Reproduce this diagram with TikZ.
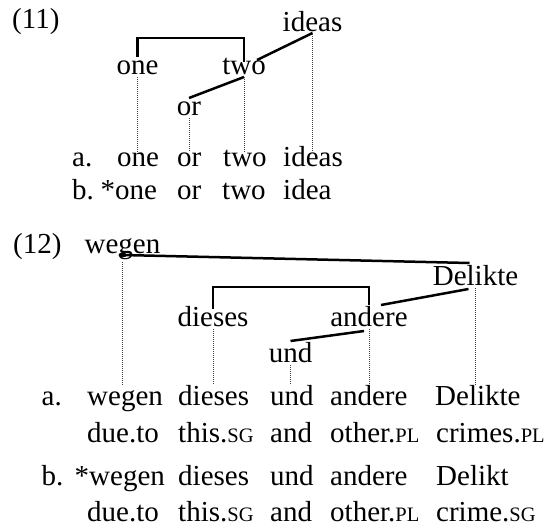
\documentclass[tikz,border=0pt]{standalone}
\usepackage{fontspec}
\setmainfont{Liberation Serif}
\newcommand{\gl}[1]{{\fontsize{20.5}{20.5}\selectfont #1}}

\begin{document}
\begin{tikzpicture}[
              x=1pt, y=-1pt,
              every node/.style={inner sep=0pt, font=\fontsize{29}{34}\selectfont},
              word/.style={anchor=base},
              row/.style={anchor=base west},
              link/.style={line width=2.5pt},
              proj/.style={line width=0.9pt, black!75, dash pattern=on 1pt off 1pt, shorten <=3pt}
            ]
            \useasboundingbox (0,0) rectangle (548,528);

            % (11): tree
            \node[row] (ex11) at (12,28) {(11)};
            \node[word] (ideas) at (312.5,31) {ideas};
            \node[word] (one) at (137.5,74) {one};
            \node[word] (two) at (244,74) {two};
            \node[word] (or) at (189,115) {or};

            % (11): examples
            \node[row] (a11) at (72,166) {a.};
            \node[row] (oneA) at (117,166) {one};
            \node[row] (orA) at (177,166) {or};
            \node[row] (twoA) at (223,166) {two};
            \node[row] (ideasA) at (283,166) {ideas};
            \node[row] (b11) at (72,199) {b.};
            \node[row] (oneB) at (115,199) {\llap{*}one};
            \node[row] (orB) at (177,199) {or};
            \node[row] (twoB) at (222,199) {two};
            \node[row] (ideaB) at (283,199) {idea};

            % (11): edges
            \draw[link] ([yshift=17pt]one.base) |- ([yshift=36pt]two.base) -- ([yshift=12pt]two.base);
            \draw[link] ([xshift=13pt,yshift=14pt]two.base) -- ([yshift=-2pt]ideas.base);
            \draw[link] ([yshift=-3pt]two.base) -- ([yshift=17pt]or.base);

            % (11): projection lines
            \coordinate (foot11) at (0,152);
            \foreach \w in {one,two,or,ideas}
              \draw[proj] (\w.south) -- (\w.south |- foot11);

            % (12): tree
            \node[row] (ex12) at (13,253) {(12)};
            \node[word] (wegen) at (122.5,253) {wegen};
            \node[word] (Delikte) at (475.5,285) {Delikte};
            \node[word] (dieses) at (213,326) {dieses};
            \node[word] (andere) at (369,326) {andere};
            \node[word] (und) at (290.5,362) {und};

            % (12): examples with glosses
            \node[row] (a12) at (41.5,405) {a.};
            \node[row] (wegenA) at (87,405) {wegen};
            \node[row] (diesesA) at (178,405) {dieses};
            \node[row] (undA) at (270,405) {und};
            \node[row] (andereA) at (330,405) {andere};
            \node[row] (DelikteA) at (435,405) {Delikte};
            \node[row] (duetoA) at (87,442) {due.to};
            \node[row] (thisA) at (178,442) {this.\gl{SG}};
            \node[row] (andA) at (270,442) {and};
            \node[row] (otherA) at (330,442) {other.\gl{PL}};
            \node[row] (crimesA) at (436,442) {crimes.\gl{PL}};

            \node[row] (b12) at (41.5,485) {b.};
            \node[row] (wegenB) at (89,485) {\llap{*}wegen};
            \node[row] (diesesB) at (178,485) {dieses};
            \node[row] (undB) at (270,485) {und};
            \node[row] (andereB) at (330,485) {andere};
            \node[row] (DeliktB) at (436,485) {Delikt};
            \node[row] (duetoB) at (87,521) {due.to};
            \node[row] (thisB) at (178,521) {this.\gl{SG}};
            \node[row] (andB) at (270,521) {and};
            \node[row] (otherB) at (330,521) {other.\gl{PL}};
            \node[row] (crimeB) at (436,521) {crime.\gl{SG}};

            % (12): edges
            \draw[link] ([yshift=-2pt]wegen.base) -- ([xshift=-6pt,yshift=22pt]Delikte.base);
            \fill ([yshift=-2pt]wegen.base) ellipse (4pt and 2.5pt);
            \draw[link] ([yshift=17pt]dieses.base) |- ([yshift=39pt]andere.base) -- ([yshift=21pt]andere.base);
            \draw[link] ([xshift=12pt,yshift=21pt]andere.base) -- ([xshift=-7pt,yshift=-4pt]Delikte.base);
            \draw[link] ([xshift=-5pt,yshift=-5pt]andere.base) -- ([yshift=21pt]und.base);

            % (12): projection lines
            \coordinate (foot12) at (0,385);
            \foreach \w in {wegen,dieses,und,andere,Delikte}
              \draw[proj] (\w.south) -- (\w.south |- foot12);

            \end{tikzpicture}
\end{document}
